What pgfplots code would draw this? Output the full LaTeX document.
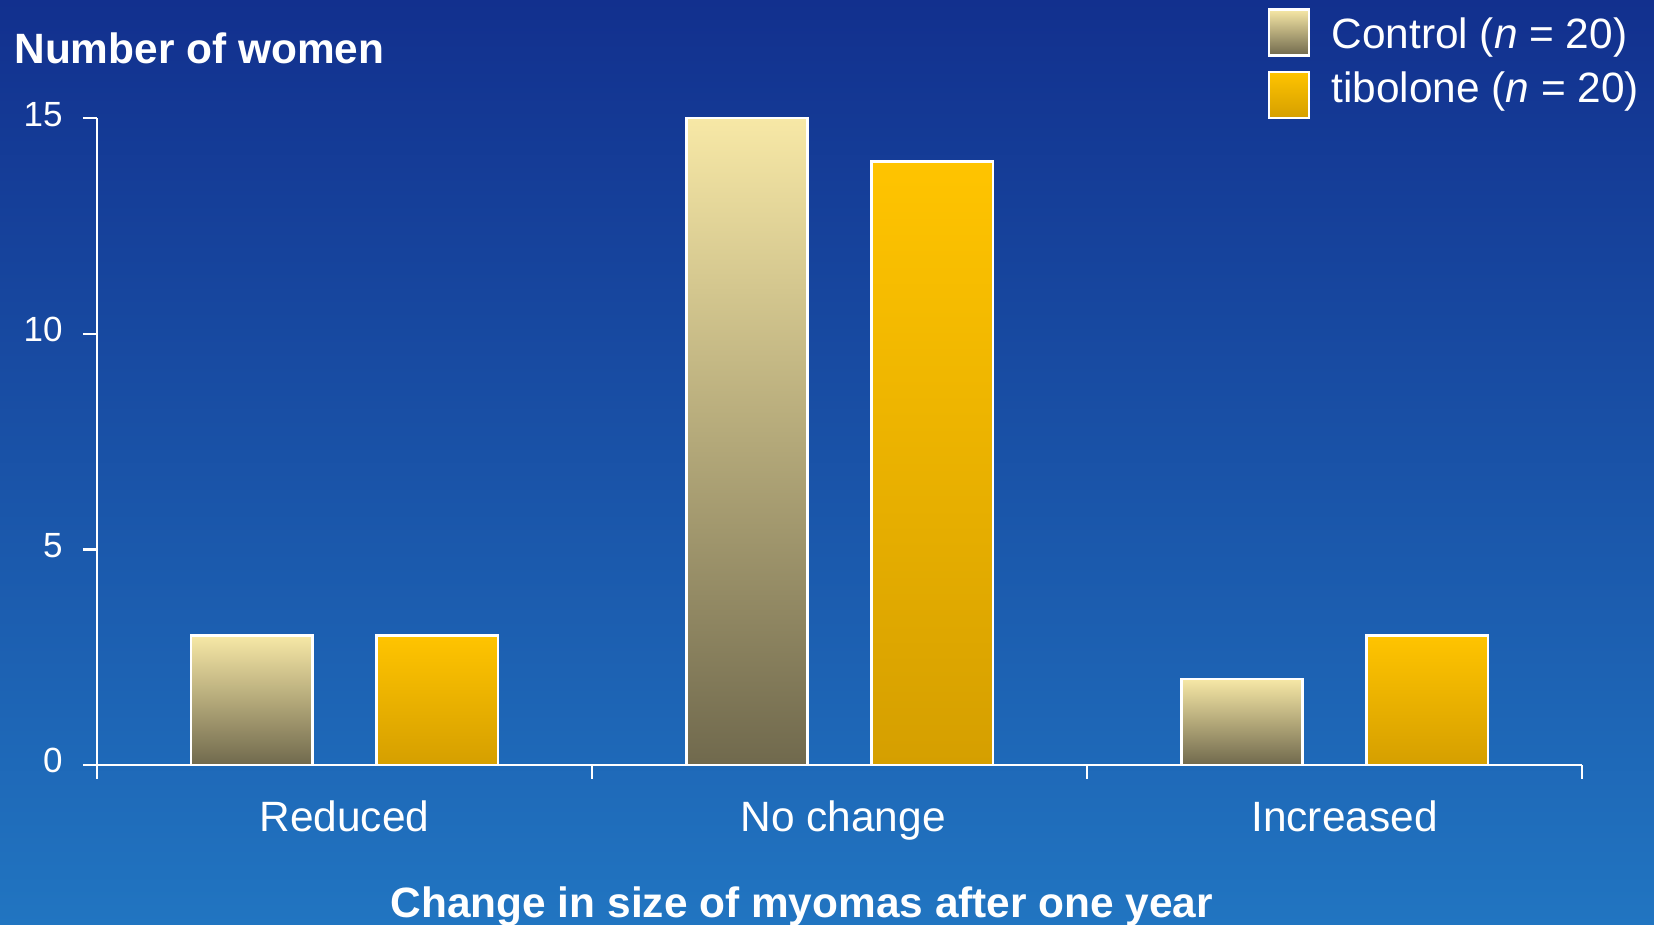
\documentclass[border=0pt]{standalone}
\usepackage{pgfplots}
\pgfplotsset{compat=1.18}
\usepackage{fontspec}
\setmainfont{Liberation Sans}

\definecolor{bgtop}{RGB}{18,48,142}
\definecolor{bgbot}{RGB}{33,117,193}
\definecolor{ctrltop}{RGB}{247,232,166}
\definecolor{ctrlmid}{RGB}{200,189,138}
\definecolor{ctrlbot}{RGB}{112,105,77}
\definecolor{tibtop}{RGB}{255,196,0}
\definecolor{tibmid}{RGB}{243,182,0}
\definecolor{tibbot}{RGB}{213,159,0}

\newcommand{\bigfont}{\fontsize{21.2}{25}\selectfont}

% square legend swatch carrying the bar's own shading
\pgfplotsset{
  box legend/.style={legend image code/.code={%
    \draw[##1, line width=1.2pt] (0pt,-11.5pt) rectangle (20pt,11.5pt);}},
  ctrl bar/.style={ybar, bar width=0.245, bar shift=-0.187,
    draw=white, line width=1.2pt, shade,
    top color=ctrltop, middle color=ctrlmid, bottom color=ctrlbot, box legend},
  tib bar/.style={ybar, bar width=0.245, bar shift=0.187,
    draw=white, line width=1.2pt, shade,
    top color=tibtop, middle color=tibmid, bottom color=tibbot, box legend},
}

\begin{document}
\begin{tikzpicture}[x=1pt,y=1pt]
% backdrop
\shade[top color=bgtop, bottom color=bgbot] (0,0) rectangle (827,462.5);

\begin{axis}[
  at={(48.5pt,80pt)}, anchor=south west,
  scale only axis, width=742.5pt, height=323.4pt,
  xmin=-0.5, xmax=2.5, ymin=0, ymax=15,
  clip=false,
  axis x line=bottom, axis y line=left,
  axis line style={white, line width=1.2pt, -},
  tick align=outside,
  major tick length=7pt,
  tick style={white, line width=1.2pt},
  /pgf/number format/assume math mode=true,
  ytick={0,5,10,15},
  yticklabel style={font=\fontsize{17.5}{20}\selectfont, text=white,
    anchor=base east, inner sep=0pt, xshift=-10pt, yshift=-4pt},
  xtick={-0.5,0.5,1.5,2.5},
  xticklabels={},
  extra x ticks={0,1,2},
  extra x tick labels={Reduced,\hspace*{3.7pt}No change,\hspace*{10pt}Increased},
  extra x tick style={major tick length=0pt},
  xticklabel style={font=\bigfont, text=white, anchor=base,
    inner sep=0pt, yshift=-33.5pt},
  xlabel={Change in size of myomas after one year},
  xlabel style={at={(axis description cs:0.4747,-0.2365)}, anchor=base,
    font=\bfseries\bigfont, text=white, inner sep=0pt},
  ylabel={Number of women},
  ylabel style={rotate=-90, at={(axis description cs:-0.0559,1.085)},
    anchor=base west, font=\bfseries\bigfont, text=white, inner sep=0pt},
  legend style={at={(axis description cs:0.7886,1.17)}, anchor=north west,
    draw=none, fill=none, inner sep=0pt, outer sep=0pt,
    font=\bigfont, text=white, row sep=7pt, column sep=10.5pt,
    nodes={inner sep=0pt}},
  legend cell align=left,
]
% one plot per bar so each bar carries its own full gradient
\addplot[ctrl bar] coordinates {(0,3)};
\addlegendentry{\raisebox{-9pt}[0pt][0pt]{Control (\textit{n} = 20)}}
\addplot[tib bar] coordinates {(0,3)};
\addlegendentry{\raisebox{-4.4pt}[0pt][0pt]{tibolone (\textit{n} = 20)}}
\addplot[ctrl bar, forget plot] coordinates {(1,15)};
\addplot[tib bar, forget plot] coordinates {(1,14)};
\addplot[ctrl bar, forget plot] coordinates {(2,2)};
\addplot[tib bar, forget plot] coordinates {(2,3)};
\end{axis}

\pgfresetboundingbox
\useasboundingbox (0,0) rectangle (827,462.5);
\end{tikzpicture}
\end{document}
